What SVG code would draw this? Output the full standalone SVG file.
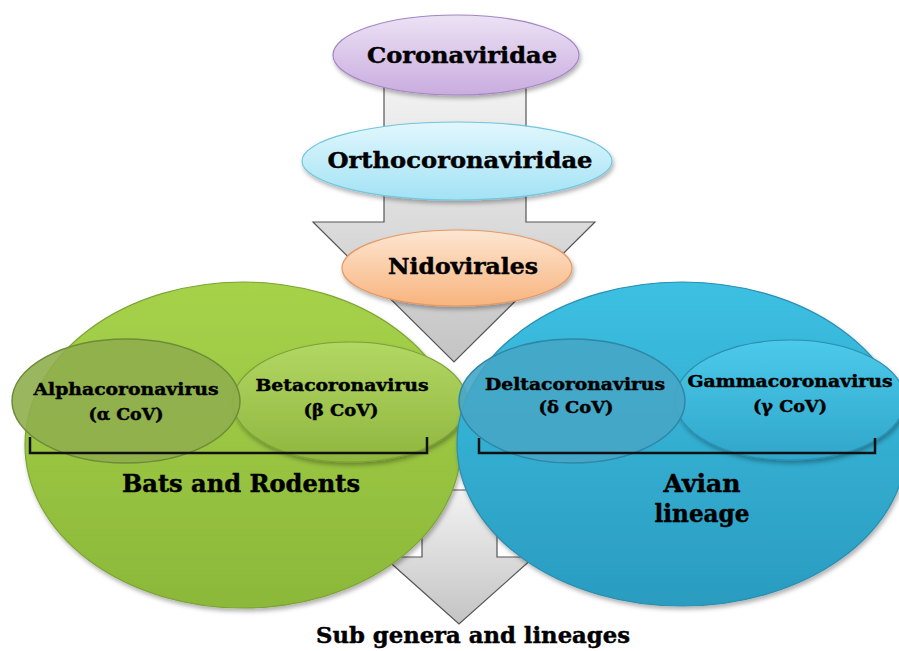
<svg xmlns="http://www.w3.org/2000/svg" width="899" height="651" viewBox="0 0 899 651">
<defs>
<linearGradient id="gArrow" x1="0" y1="0" x2="0" y2="1">
<stop offset="0" stop-color="#f2f2f2"/><stop offset="1" stop-color="#c4c4c4"/>
</linearGradient>
<linearGradient id="gPurple" x1="0" y1="0" x2="0" y2="1">
<stop offset="0" stop-color="#ece2f4"/><stop offset="1" stop-color="#c9acdf"/>
</linearGradient>
<linearGradient id="gCyan" x1="0" y1="0" x2="0" y2="1">
<stop offset="0" stop-color="#e2f7fd"/><stop offset="1" stop-color="#a2e2f5"/>
</linearGradient>
<linearGradient id="gPeach" x1="0" y1="0" x2="0" y2="1">
<stop offset="0" stop-color="#fde6d2"/><stop offset="1" stop-color="#f8b47e"/>
</linearGradient>
<linearGradient id="gGreen" x1="0" y1="0" x2="0" y2="1">
<stop offset="0" stop-color="#a6d24a"/><stop offset="1" stop-color="#8cb83a"/>
</linearGradient>
<linearGradient id="gBeta" x1="0" y1="0" x2="0" y2="1">
<stop offset="0" stop-color="#b2d864"/><stop offset="1" stop-color="#8fb63e"/>
</linearGradient>
<linearGradient id="gBlue" x1="0" y1="0" x2="0" y2="1">
<stop offset="0" stop-color="#3cc0e2"/><stop offset="1" stop-color="#2a9cc0"/>
</linearGradient>
<linearGradient id="gGamma" x1="0" y1="0" x2="0" y2="1">
<stop offset="0" stop-color="#4ccaea"/><stop offset="1" stop-color="#2fa6ca"/>
</linearGradient>
<filter id="sh" x="-10%" y="-10%" width="125%" height="130%">
<feDropShadow dx="1.5" dy="3" stdDeviation="2" flood-color="#000" flood-opacity="0.3"/>
</filter>
</defs>
<style>
text{font-family:"DejaVu Serif","Liberation Serif",serif;font-weight:bold;fill:#000;stroke:#000;stroke-width:0.45;text-anchor:middle;}
.arrow{fill:url(#gArrow);stroke:#555;stroke-width:1.2;}
.br{fill:none;stroke:#111;stroke-width:2.5;}
.t22{font-size:23px;}
.t16{font-size:17px;}
.t24{font-size:24px;}
</style>
<rect width="899" height="651" fill="#ffffff"/>
<g id="connectors">
<path class="arrow" d="M384,85 H526 V222 H595 L454,362 L313,222 H384 Z"/>
<path class="arrow" d="M422,490 H497 V557 H534 L459,624 L384,557 H422 Z"/>
</g>
<g id="coronaviridae">
<ellipse cx="456" cy="55" rx="123" ry="40" fill="url(#gPurple)" stroke="#a585c5" stroke-width="1.2" filter="url(#sh)"/>
<text class="t22" x="462" y="63" textLength="190" lengthAdjust="spacingAndGlyphs">Coronaviridae</text>
</g>
<g id="orthocoronaviridae">
<ellipse cx="457" cy="161" rx="155" ry="39" fill="url(#gCyan)" stroke="#72c6de" stroke-width="1.2" filter="url(#sh)"/>
<text class="t22" x="460" y="168" textLength="265" lengthAdjust="spacingAndGlyphs">Orthocoronaviridae</text>
</g>
<g id="nidovirales">
<ellipse cx="457" cy="268" rx="115" ry="38" fill="url(#gPeach)" stroke="#e59a66" stroke-width="1.2" filter="url(#sh)"/>
<text class="t22" x="463" y="274" textLength="150" lengthAdjust="spacingAndGlyphs">Nidovirales</text>
</g>
<g id="bats-and-rodents">
<ellipse cx="243" cy="445" rx="218" ry="163" fill="url(#gGreen)" stroke="#7da432" stroke-width="1.2" filter="url(#sh)"/>
<g id="betacoronavirus">
<ellipse cx="350" cy="402" rx="117" ry="60" fill="url(#gBeta)" stroke="#7ea03a" stroke-width="1.2" filter="url(#sh)"/>
<text class="t16" x="342" y="391" textLength="173" lengthAdjust="spacingAndGlyphs">Betacoronavirus</text>
<text class="t16" x="341" y="416" textLength="75" lengthAdjust="spacingAndGlyphs">(β CoV)</text>
</g>
<g id="alphacoronavirus">
<ellipse cx="126" cy="401" rx="114" ry="62" fill="#8fae4e" fill-opacity="0.9" stroke="#6e8c38" stroke-width="1.5"/>
<text class="t16" x="126" y="395" textLength="185" lengthAdjust="spacingAndGlyphs">Alphacoronavirus</text>
<text class="t16" x="126" y="420" textLength="75" lengthAdjust="spacingAndGlyphs">(α CoV)</text>
</g>
<path class="br" d="M30,437 V453 H427 V437"/>
<text class="t24" x="241" y="492" textLength="238" lengthAdjust="spacingAndGlyphs">Bats and Rodents</text>
</g>
<g id="avian-lineage">
<ellipse cx="682" cy="444" rx="225" ry="162" fill="url(#gBlue)" stroke="#2a8fb0" stroke-width="1.2" filter="url(#sh)"/>
<g id="gammacoronavirus">
<ellipse cx="790" cy="400" rx="115" ry="60" fill="url(#gGamma)" stroke="#2a8fb2" stroke-width="1.2" filter="url(#sh)"/>
<text class="t16" x="790" y="387" textLength="205" lengthAdjust="spacingAndGlyphs">Gammacoronavirus</text>
<text class="t16" x="790" y="412" textLength="74" lengthAdjust="spacingAndGlyphs">(γ CoV)</text>
</g>
<g id="deltacoronavirus">
<ellipse cx="572" cy="401" rx="113" ry="62" fill="#46a6c6" fill-opacity="0.9" stroke="#2f86a6" stroke-width="1.5"/>
<text class="t16" x="575" y="390" textLength="180" lengthAdjust="spacingAndGlyphs">Deltacoronavirus</text>
<text class="t16" x="576" y="413" textLength="75" lengthAdjust="spacingAndGlyphs">(δ CoV)</text>
</g>
<path class="br" d="M479,438 V453 H875 V438"/>
<text class="t24" x="702" y="492" textLength="77" lengthAdjust="spacingAndGlyphs">Avian</text>
<text class="t24" x="702" y="522" textLength="95" lengthAdjust="spacingAndGlyphs">lineage</text>
</g>
<g id="sub-genera">
<text class="t22" x="473" y="643" textLength="314" lengthAdjust="spacingAndGlyphs">Sub genera and lineages</text>
</g>
</svg>
